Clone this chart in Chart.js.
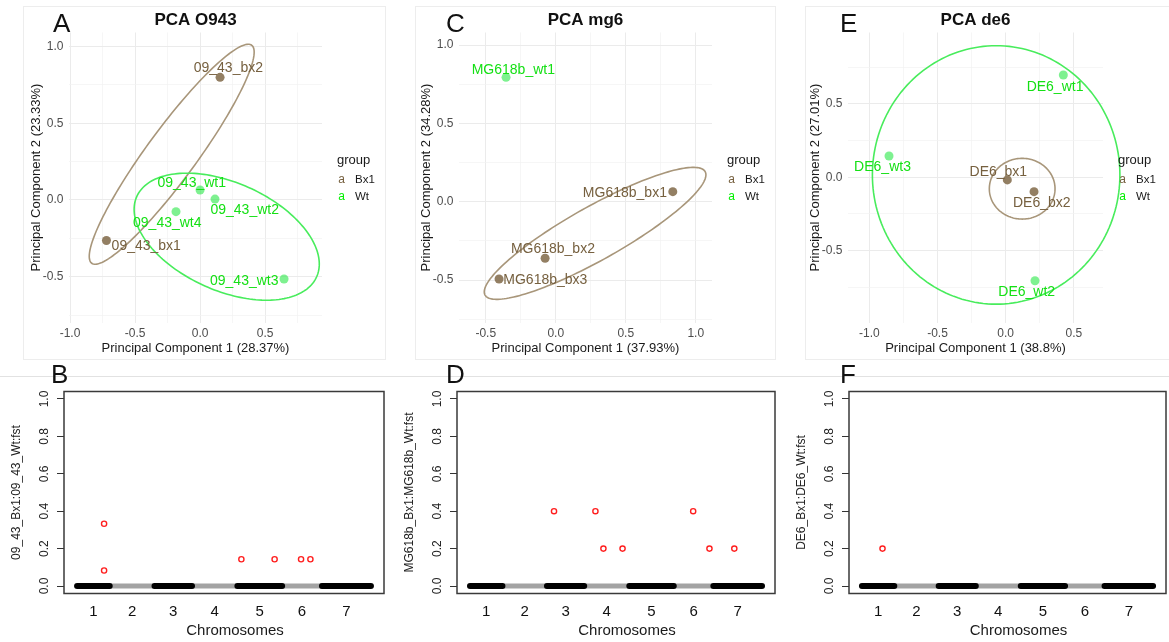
<!DOCTYPE html>
<html>
<head>
<meta charset="utf-8">
<script src="https://cdn.jsdelivr.net/npm/chart.js@4.4.1/dist/chart.umd.min.js"></script>
<style>
  html, body { margin: 0; padding: 0; background: #fff; }
  body { width: 1169px; height: 642px; position: relative; overflow: hidden; }
  .frame { position: absolute; border: 1px solid #ededed; box-sizing: border-box; }
  .rule { position: absolute; left: 0; top: 376px; width: 1169px; height: 1px; background: #e2e2e2; }
  .cv { position: absolute; }
  .letter { position: absolute; font-family: "Liberation Sans Narrow", "Liberation Sans", sans-serif;
            font-size: 26px; line-height: 26px; color: #111; }
</style>
</head>
<body>
<div class="frame" style="left:23px;top:6px;width:363px;height:354px"></div>
<div class="frame" style="left:415px;top:6px;width:361px;height:354px"></div>
<div class="frame" style="left:805px;top:6px;width:380px;height:354px"></div>
<div class="rule"></div>

<div class="cv" style="left:23px;top:6px"><canvas id="pcaA" width="362" height="354"></canvas></div>
<div class="cv" style="left:413px;top:6px"><canvas id="pcaC" width="362" height="354"></canvas></div>
<div class="cv" style="left:802px;top:6px"><canvas id="pcaE" width="364" height="354"></canvas></div>
<div class="cv" style="left:0px;top:377px"><canvas id="fstB" width="388" height="265"></canvas></div>
<div class="cv" style="left:393px;top:377px"><canvas id="fstD" width="386" height="265"></canvas></div>
<div class="cv" style="left:785px;top:377px"><canvas id="fstF" width="385" height="265"></canvas></div>

<div class="letter" style="left:53px;top:10px">A</div>
<div class="letter" style="left:446px;top:10px">C</div>
<div class="letter" style="left:840px;top:10px">E</div>
<div class="letter" style="left:51px;top:361px">B</div>
<div class="letter" style="left:446px;top:361px">D</div>
<div class="letter" style="left:840px;top:361px">F</div>

<script>
const FONT = '"Liberation Sans", Arial, sans-serif';

// ---- PCA O943 (panel A) ----
const pcaA_names = ['09_43_bx1', '09_43_bx2', '09_43_wt1', '09_43_wt2', '09_43_wt3', '09_43_wt4'];
const pcaA_group = ['Bx1', 'Bx1', 'Wt', 'Wt', 'Wt', 'Wt'];
const pcaA_pc1 = [-0.72, 0.154, 0.0, 0.115, 0.646, -0.185];
const pcaA_pc2 = [-0.264, 0.799, 0.065, 0.006, -0.515, -0.076];
// ellipses: centre + two conjugate half-axes (PC units)
const ellA_bx1 = { c: [-0.218, 0.298], u: [0.615, 0.710], v: [0.155, -0.096] };
const ellA_wt = { c: [0.205, -0.239], u: [0.692, -0.261], v: [-0.168, -0.321] };

// ---- PCA mg6 (panel C) ----
const pcaC_names = ['MG618b_bx1', 'MG618b_bx2', 'MG618b_bx3', 'MG618b_wt1'];
const pcaC_group = ['Bx1', 'Bx1', 'Bx1', 'Wt'];
const pcaC_pc1 = [0.836, -0.076, -0.405, -0.355];
const pcaC_pc2 = [0.064, -0.361, -0.493, 0.794];
const ellC_bx1 = { c: [0.281, -0.202], u: [0.786, 0.394], v: [0.094, -0.149] };

// ---- PCA de6 (panel E) ----
const pcaE_names = ['DE6_bx1', 'DE6_bx2', 'DE6_wt1', 'DE6_wt2', 'DE6_wt3'];
const pcaE_group = ['Bx1', 'Bx1', 'Wt', 'Wt', 'Wt'];
const pcaE_pc1 = [0.012, 0.208, 0.423, 0.215, -0.856];
const pcaE_pc2 = [-0.018, -0.098, 0.697, -0.705, 0.145];
const ellE_bx1 = { c: [0.121, -0.078], u: [0.241, 0], v: [0, 0.207] };
const ellE_wt = { c: [-0.07, 0.016], u: [0.908, 0], v: [0, 0.881] };

// axis ranges and grid ticks (major every 0.5, minor at 0.25)
const pcaA_xRange = [-1.008, 0.938], pcaA_yRange = [-0.798, 1.091];
const pcaC_xRange = [-0.691, 1.116], pcaC_yRange = [-0.771, 1.080];
const pcaE_xRange = [-1.157, 0.714], pcaE_yRange = [-0.990, 0.987];
const pcaA_xTicks = [-1, -0.75, -0.5, -0.25, 0, 0.25, 0.5, 0.75];
const pcaA_yTicks = [-0.75, -0.5, -0.25, 0, 0.25, 0.5, 0.75, 1];
const pcaC_xTicks = [-0.5, -0.25, 0, 0.25, 0.5, 0.75, 1];
const pcaC_yTicks = [-0.75, -0.5, -0.25, 0, 0.25, 0.5, 0.75, 1];
const pcaE_xTicks = [-1, -0.75, -0.5, -0.25, 0, 0.25, 0.5];
const pcaE_yTicks = [-0.75, -0.5, -0.25, 0, 0.25, 0.5, 0.75];

// ---- Fst along chromosomes (panels B, D, F) ----
const chromNames = ['1', '2', '3', '4', '5', '6', '7'];
const chromStart = [0, 500, 1186, 1760, 2455, 3140, 3750];
const chromEnd = [500, 1186, 1760, 2455, 3140, 3750, 4500];
const fstTicks = [0, 0.2, 0.4, 0.6, 0.8, 1.0];
const fstB_pos = [414, 414, 2516, 3025, 3430, 3573];
const fstB_val = [0.333, 0.083, 0.143, 0.143, 0.143, 0.143];
const fstD_pos = [1295, 1933, 2056, 2351, 3439, 3690, 4073];
const fstD_val = [0.4, 0.4, 0.2, 0.2, 0.4, 0.2, 0.2];
const fstF_pos = [318];
const fstF_val = [0.2];

// label placement (pixel nudges, like ggrepel output)
const pcaA_nudge = [[39.8, 6], [8.3, -9], [-8.3, -7.3], [29.7, 11], [-39.8, 2.4], [-8.7, 11]];
const pcaC_nudge = [[-47.9, 1], [7.8, -9], [46.3, 1], [7.3, -7.3]];
const pcaE_nudge = [[-9, -7.7], [7.7, 11], [-8.3, 12.3], [-8.3, 11], [-6.5, 10.7]];

const groups = ['Bx1', 'Wt'];
const groupText = { Bx1: '#76603f', Wt: '#14e014' };
const groupPoint = { Bx1: 'rgba(128,104,72,0.85)', Wt: 'rgba(40,232,70,0.6)' };
const groupEllipse = { Bx1: '#a8967a', Wt: '#48ec5c' };
const groupKey = { Bx1: '#76603f', Wt: '#00f000' };

const isMajor = v => Math.abs(v * 2 - Math.round(v * 2)) < 1e-6;

function pcaChart(id, d) {
    const datasets = groups.map(g => ({
        label: g,
        data: d.names.map((n, i) => ({ x: d.pc1[i], y: d.pc2[i], name: n, k: i }))
                     .filter((p, i) => d.group[i] === g),
        backgroundColor: groupPoint[g],
        borderWidth: 0,
        pointRadius: 4.5,
        pointHoverRadius: 4.5
    }));

    const decor = {
        id: 'decor' + id,
        beforeDatasetsDraw(chart) {
            const { ctx, scales: { x, y } } = chart;
            ctx.save();
            d.ellipses.forEach(([g, e]) => {
                ctx.beginPath();
                for (let k = 0; k <= 180; k++) {
                    const t = k / 180 * Math.PI * 2;
                    const px = x.getPixelForValue(e.c[0] + e.u[0] * Math.cos(t) + e.v[0] * Math.sin(t));
                    const py = y.getPixelForValue(e.c[1] + e.u[1] * Math.cos(t) + e.v[1] * Math.sin(t));
                    k ? ctx.lineTo(px, py) : ctx.moveTo(px, py);
                }
                ctx.closePath();
                ctx.strokeStyle = groupEllipse[g];
                ctx.lineWidth = 1.6;
                ctx.stroke();
            });
            ctx.restore();
        },
        afterDatasetsDraw(chart) {
            const ctx = chart.ctx;
            ctx.save();
            ctx.font = '14px ' + FONT;
            ctx.textAlign = 'center';
            ctx.textBaseline = 'middle';
            chart.data.datasets.forEach((ds, di) => {
                const meta = chart.getDatasetMeta(di);
                meta.data.forEach((el, j) => {
                    const p = ds.data[j];
                    const nd = d.nudge[p.k];
                    ctx.fillStyle = groupText[ds.label];
                    ctx.fillText(p.name, el.x + nd[0], el.y + nd[1]);
                });
            });
            // legend
            const ca = chart.chartArea;
            const mid = (ca.top + ca.bottom) / 2;
            const lx = ca.right + 15;
            ctx.textAlign = 'left';
            ctx.fillStyle = '#1a1a1a';
            ctx.font = '13px ' + FONT;
            ctx.fillText('group', lx, mid - 16.7);
            groups.forEach((g, k) => {
                const yy = mid + 2.3 + k * 17.3;
                ctx.font = '12px ' + FONT;
                ctx.textAlign = 'center';
                ctx.fillStyle = groupKey[g];
                ctx.fillText('a', lx + 4.7, yy);
                ctx.font = '11.5px ' + FONT;
                ctx.textAlign = 'left';
                ctx.fillStyle = '#1a1a1a';
                ctx.fillText(g, lx + 18, yy);
            });
            ctx.restore();
        }
    };

    const axis = (range, ticks) => ({
        type: 'linear',
        min: range[0],
        max: range[1],
        afterBuildTicks: s => { s.ticks = ticks.map(v => ({ value: v })); },
        grid: {
            color: c => (c.tick && isMajor(c.tick.value)) ? '#ebebeb' : '#f2f2f2',
            lineWidth: c => (c.tick && isMajor(c.tick.value)) ? 1 : 0.7,
            drawTicks: false
        },
        border: { display: false },
        ticks: {
            callback: v => isMajor(v) ? v.toFixed(1) : '',
            color: '#4d4d4d',
            font: { size: 12, family: FONT },
            autoSkip: false,
            maxRotation: 0
        }
    });

    const xs = axis(d.xRange, d.xTicks);
    xs.afterFit = s => { s.height = 37.5; };
    xs.ticks.padding = 3.6;
    xs.title = { display: true, text: d.xTitle, color: '#1a1a1a', font: { size: 13, family: FONT }, padding: { top: 0, bottom: 3.9 } };

    const ys = axis(d.yRange, d.yTicks);
    ys.afterFit = s => { s.width = 46; };
    ys.ticks.padding = 5.5;
    ys.title = { display: true, text: d.yTitle, color: '#1a1a1a', font: { size: 13, family: FONT }, padding: { top: 5.2, bottom: 0 } };

    new Chart(document.getElementById(id), {
        type: 'scatter',
        data: { datasets },
        options: {
            responsive: false,
            animation: false,
            devicePixelRatio: 1,
            events: [],
            layout: { padding: { left: 0, top: 0, right: 63, bottom: 0 } },
            scales: { x: xs, y: ys },
            plugins: {
                legend: { display: false },
                tooltip: { enabled: false },
                title: {
                    display: true, text: d.title, fullSize: false, color: '#111',
                    font: { size: 17, weight: 'bold', family: FONT },
                    padding: { top: 3.8, bottom: 2.3 }
                }
            }
        },
        plugins: [decor]
    });
}

function fstChart(id, pos, val, yTitle) {
    const datasets = [{
        data: pos.map((p, i) => ({ x: p, y: val[i] })),
        pointStyle: 'circle',
        pointRadius: 2.6,
        pointHoverRadius: 2.6,
        borderColor: '#ff1f1f',
        backgroundColor: 'rgba(0,0,0,0)',
        borderWidth: 1.4,
        order: 0
    }];
    chromStart.forEach((s, i) => {
        const odd = i % 2 === 1;
        datasets.push({
            data: [{ x: s, y: 0 }, { x: chromEnd[i], y: 0 }],
            showLine: true,
            borderColor: odd ? '#a3a3a3' : '#000',
            borderWidth: odd ? 5 : 6,
            borderCapStyle: 'round',
            pointRadius: 0,
            pointHoverRadius: 0,
            order: odd ? 2 : 1
        });
    });

    const frame = {
        id: 'frame' + id,
        afterDatasetsDraw(chart) {
            const { ctx, chartArea: ca } = chart;
            ctx.save();
            ctx.strokeStyle = '#3a3a3a';
            ctx.lineWidth = 1.5;
            ctx.strokeRect(ca.left, ca.top, ca.right - ca.left, ca.bottom - ca.top);
            ctx.fillStyle = '#1a1a1a';
            ctx.font = '15px ' + FONT;
            ctx.textAlign = 'center';
            ctx.textBaseline = 'middle';
            ctx.fillText('Chromosomes', (ca.left + ca.right) / 2 + 11, ca.bottom + 37.2);
            ctx.restore();
        }
    };

    new Chart(document.getElementById(id), {
        type: 'scatter',
        data: { datasets },
        options: {
            responsive: false,
            animation: false,
            devicePixelRatio: 1,
            events: [],
            layout: { padding: { left: 0, top: 14.5, right: 2, bottom: 0 } },
            scales: {
                x: {
                    type: 'linear', min: -200, max: 4700,
                    afterBuildTicks: s => { s.ticks = chromStart.map((st, i) => ({ value: (st + chromEnd[i]) / 2 })); },
                    afterFit: s => { s.height = 48.5; },
                    grid: { display: false, drawTicks: false },
                    border: { display: false },
                    ticks: {
                        callback: (v, i) => chromNames[i],
                        autoSkip: false, maxRotation: 0,
                        color: '#111', font: { size: 15, family: FONT }, padding: 9.2
                    }
                },
                y: {
                    type: 'linear', min: -0.04, max: 1.04,
                    afterBuildTicks: s => { s.ticks = fstTicks.map(v => ({ value: v })); },
                    afterFit: s => { s.width = 64; },
                    grid: { drawOnChartArea: false, drawTicks: true, tickLength: 7, color: '#333' },
                    border: { display: false },
                    ticks: {
                        callback: v => v.toFixed(1),
                        minRotation: 90, maxRotation: 90, crossAlign: 'center',
                        color: '#222', font: { size: 12, family: FONT }, padding: 3.6
                    },
                    title: { display: true, text: yTitle, color: '#222', font: { size: 12, family: FONT }, padding: { top: 9.5, bottom: 0 } }
                }
            },
            plugins: { legend: { display: false }, tooltip: { enabled: false } }
        },
        plugins: [frame]
    });
}

pcaChart('pcaA', {
    names: pcaA_names, group: pcaA_group, pc1: pcaA_pc1, pc2: pcaA_pc2, nudge: pcaA_nudge,
    xRange: pcaA_xRange, yRange: pcaA_yRange, xTicks: pcaA_xTicks, yTicks: pcaA_yTicks,
    ellipses: [['Bx1', ellA_bx1], ['Wt', ellA_wt]],
    title: 'PCA O943',
    xTitle: 'Principal Component 1 (28.37%)', yTitle: 'Principal Component 2 (23.33%)'
});
pcaChart('pcaC', {
    names: pcaC_names, group: pcaC_group, pc1: pcaC_pc1, pc2: pcaC_pc2, nudge: pcaC_nudge,
    xRange: pcaC_xRange, yRange: pcaC_yRange, xTicks: pcaC_xTicks, yTicks: pcaC_yTicks,
    ellipses: [['Bx1', ellC_bx1]],
    title: 'PCA mg6',
    xTitle: 'Principal Component 1 (37.93%)', yTitle: 'Principal Component 2 (34.28%)'
});
pcaChart('pcaE', {
    names: pcaE_names, group: pcaE_group, pc1: pcaE_pc1, pc2: pcaE_pc2, nudge: pcaE_nudge,
    xRange: pcaE_xRange, yRange: pcaE_yRange, xTicks: pcaE_xTicks, yTicks: pcaE_yTicks,
    ellipses: [['Wt', ellE_wt], ['Bx1', ellE_bx1]],
    title: 'PCA de6',
    xTitle: 'Principal Component 1 (38.8%)', yTitle: 'Principal Component 2 (27.01%)'
});

fstChart('fstB', fstB_pos, fstB_val, '09_43_Bx1:09_43_Wt:fst');
fstChart('fstD', fstD_pos, fstD_val, 'MG618b_Bx1:MG618b_Wt:fst');
fstChart('fstF', fstF_pos, fstF_val, 'DE6_Bx1:DE6_Wt:fst');
</script>
</body>
</html>
